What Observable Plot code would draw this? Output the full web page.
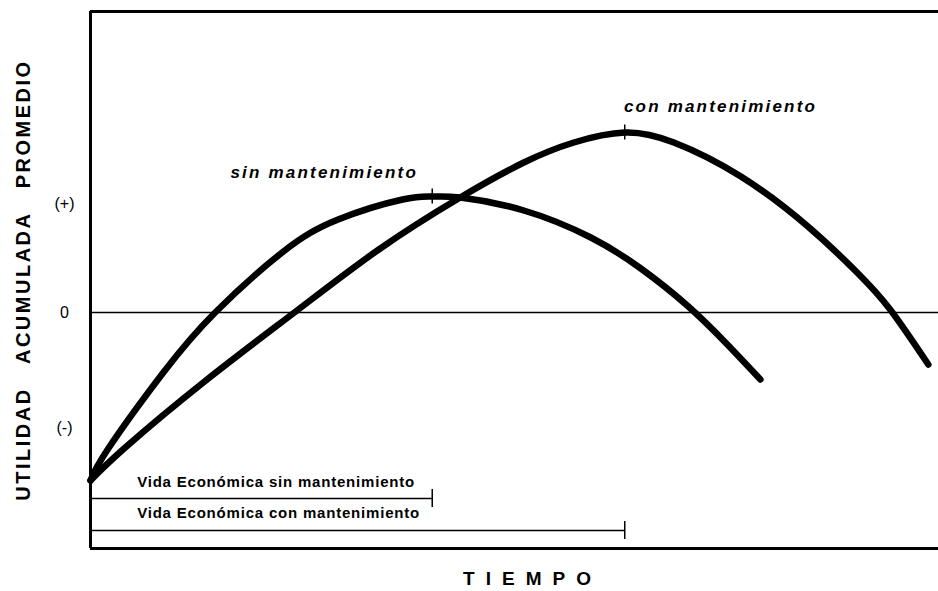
<!DOCTYPE html>
<html>
<head>
<meta charset="utf-8">
<script src="https://cdn.jsdelivr.net/npm/d3@7"></script>
<script src="https://cdn.jsdelivr.net/npm/@observablehq/plot@0.6"></script>
<style>
  html, body { margin: 0; padding: 0; background: #fff; }
</style>
</head>
<body>
<div id="chart"></div>
<script>
// Curve "sin mantenimiento" (time, average accumulated utility)
const sinT = [0, 2.1, 8.5, 14.7, 22.6, 29.2, 36.8, 40.3, 43.6, 51.1, 59.0, 64.9, 70.5, 75.1, 79.0];
const sinV = [-16.8, -13.6, -6.1, 0, 6.0, 9.3, 11.3, 11.6, 11.5, 10.2, 7.5, 4.4, 0.6, -3.2, -6.7];
// Curve "con mantenimiento"
const conT = [0, 4.1, 13.6, 24.2, 34.0, 43.4, 51.1, 57.0, 63.0, 68.8, 76.7, 84.6, 90.4, 94.3, 98.8];
const conV = [-16.8, -13.5, -6.8, 0.1, 6.3, 11.4, 15.0, 17.0, 18.0, 17.0, 13.6, 8.6, 4.0, 0.3, -5.2];

// Peaks (economic life)
const peakNames = ["sin mantenimiento", "con mantenimiento"];
const peakT = [40.3, 63.0];
const peakV = [11.6, 18.0];
const peakLabelT = [16.5, 62.9];
const peakLabelV = [14.0, 20.6];

// Economic life bars
const lifeLabels = ["Vida Económica sin mantenimiento", "Vida Económica con mantenimiento"];
const lifeEnd = [40.3, 63.0];
const lifeBarV = [-18.6, -21.8];
const lifeLabelT = [5.5, 5.5];
const lifeLabelV = [-17.0, -20.1];

// Axes
const yTickValues = [10.9, 0, -11.5];
const yTickLabels = ["(+)", "0", "(-)"];
const xDomain = [0, 100];
const yDomain = [-23.6, 30.1];
const yTitle = "UTILIDAD ACUMULADA PROMEDIO";
const xTitle = "TIEMPO";

const sinData = sinT.map((t, i) => ({t, v: sinV[i]}));
const conData = conT.map((t, i) => ({t, v: conV[i]}));
const peaks = peakNames.map((n, i) => ({n, t: peakT[i], v: peakV[i], lt: peakLabelT[i], lv: peakLabelV[i]}));
const life = lifeLabels.map((n, i) => ({n, end: lifeEnd[i], v: lifeBarV[i], lt: lifeLabelT[i], lv: lifeLabelV[i]}));

const svg = Plot.plot({
  width: 938,
  height: 591,
  marginLeft: 90,
  marginRight: 0,
  marginTop: 11,
  marginBottom: 43,
  style: {fontFamily: "Liberation Sans, Arial, sans-serif", color: "#000", background: "#fff"},
  x: {domain: xDomain},
  y: {domain: yDomain},
  marks: [
    Plot.axisY({ticks: yTickValues, tickFormat: d => yTickLabels[yTickValues.indexOf(d)], tickSize: 0, tickPadding: 26,
      textAnchor: "middle", fontSize: 16, label: yTitle, labelAnchor: "center", labelOffset: 75, labelArrow: "none"}),
    Plot.axisX({ticks: [], label: xTitle, labelAnchor: "center", labelOffset: 36, labelArrow: "none"}),
    // frame (left, top, bottom)
    Plot.ruleX([xDomain[0]], {stroke: "#000", strokeWidth: 3}),
    Plot.ruleY([yDomain[0], yDomain[1]], {stroke: "#000", strokeWidth: 3}),
    // zero line
    Plot.ruleY([0], {stroke: "#000", strokeWidth: 1.5}),
    // curves
    Plot.line(sinData, {x: "t", y: "v", curve: "natural", stroke: "#000", strokeWidth: 6.5, strokeLinecap: "round"}),
    Plot.line(conData, {x: "t", y: "v", curve: "natural", stroke: "#000", strokeWidth: 6.5, strokeLinecap: "round"}),
    // peak ticks
    Plot.ruleX(peaks, {x: "t", y1: d => d.v + 0.75, y2: d => d.v - 0.75, stroke: "#000", strokeWidth: 1.5}),
    Plot.text(peaks, {x: "lt", y: "lv", text: "n", textAnchor: "start", fontSize: 17, fontWeight: "bold", fontStyle: "italic", fill: "#000"}),
    // life bars
    Plot.ruleY(life, {y: "v", x1: xDomain[0], x2: "end", stroke: "#000", strokeWidth: 1.5}),
    Plot.ruleX(life, {x: "end", y1: d => d.v + 0.9, y2: d => d.v - 0.9, stroke: "#000", strokeWidth: 1.5}),
    Plot.text(life, {x: "lt", y: "lv", text: "n", textAnchor: "start", fontSize: 15, fontWeight: "bold", fill: "#000"})
  ]
});

const s = d3.select(svg);
s.selectAll('g[aria-label="y-axis label"] text')
  .style("font-weight", "bold").style("font-size", "20px").style("letter-spacing", "2.5px").style("word-spacing", "16px");
s.selectAll('g[aria-label="x-axis label"] text')
  .style("font-weight", "bold").style("font-size", "19px").style("letter-spacing", "11px")
  .attr("dx", 18);
s.selectAll('g[aria-label="text"] text').each(function() {
  const t = this.textContent;
  if (peakNames.includes(t)) d3.select(this).style("letter-spacing", "2.2px");
  if (lifeLabels.includes(t)) d3.select(this).style("letter-spacing", "0.8px");
});
document.getElementById("chart").appendChild(svg);
</script>
</body>
</html>
